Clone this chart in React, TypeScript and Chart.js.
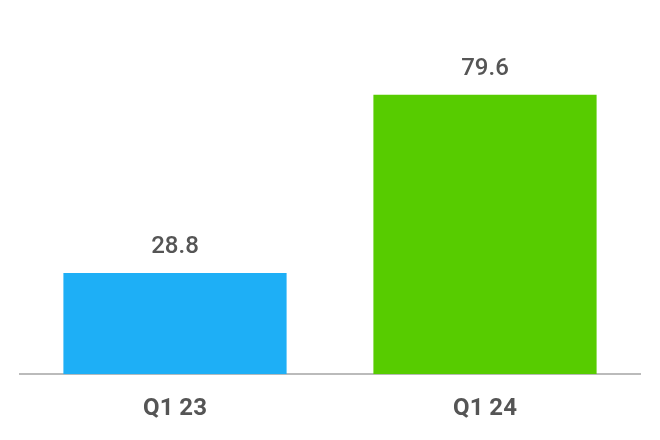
import React, { useEffect, useRef } from "react";
import { Chart, registerables } from "chart.js";

Chart.register(...registerables);

const categories = ["Q1 23", "Q1 24"];
const values = [28.8, 79.6];
const valueLabels = ["28.8", "79.6"];
const barColors = ["#1EAFF6", "#57CC00"];

const valueLabelPlugin = {
  id: "valueLabels",
  afterDatasetsDraw(chart: any) {
    const ctx = chart.ctx;
    const meta = chart.getDatasetMeta(0);
    ctx.save();
    ctx.font = "500 24px Roboto";
    ctx.fillStyle = "#555555";
    ctx.textAlign = "center";
    ctx.textBaseline = "middle";
    meta.data.forEach((bar: any, i: number) => {
      ctx.fillText(valueLabels[i], bar.x, bar.y - 26);
    });
    ctx.restore();
  },
};

export default function App() {
  const ref = useRef<HTMLCanvasElement>(null);
  useEffect(() => {
    if (!ref.current) return;
    const chart = new Chart(ref.current, {
      type: "bar",
      data: {
        labels: categories,
        datasets: [
          {
            data: values,
            backgroundColor: barColors,
            borderWidth: 0,
          },
        ],
      },
      options: {
        animation: false,
        responsive: false,
        maintainAspectRatio: false,
        layout: { padding: { left: 12, right: 12, top: 15, bottom: -11 } },
        plugins: { legend: { display: false }, tooltip: { enabled: false } },
        scales: {
          x: {
            grid: { display: false, drawTicks: false },
            border: { display: true, color: "#BBBBBB", width: 2 },
            ticks: {
              color: "#555555",
              font: { family: "Roboto", size: 24, weight: "bold" },
              padding: 20,
            },
          },
          y: {
            display: false,
            min: 0,
            max: 100,
          },
        },
      },
      plugins: [valueLabelPlugin],
    });
    return () => chart.destroy();
  }, []);
  return (
    <div style={{ width: 644, height: 424 }}>
      <canvas ref={ref} width={644} height={424} />
    </div>
  );
}
